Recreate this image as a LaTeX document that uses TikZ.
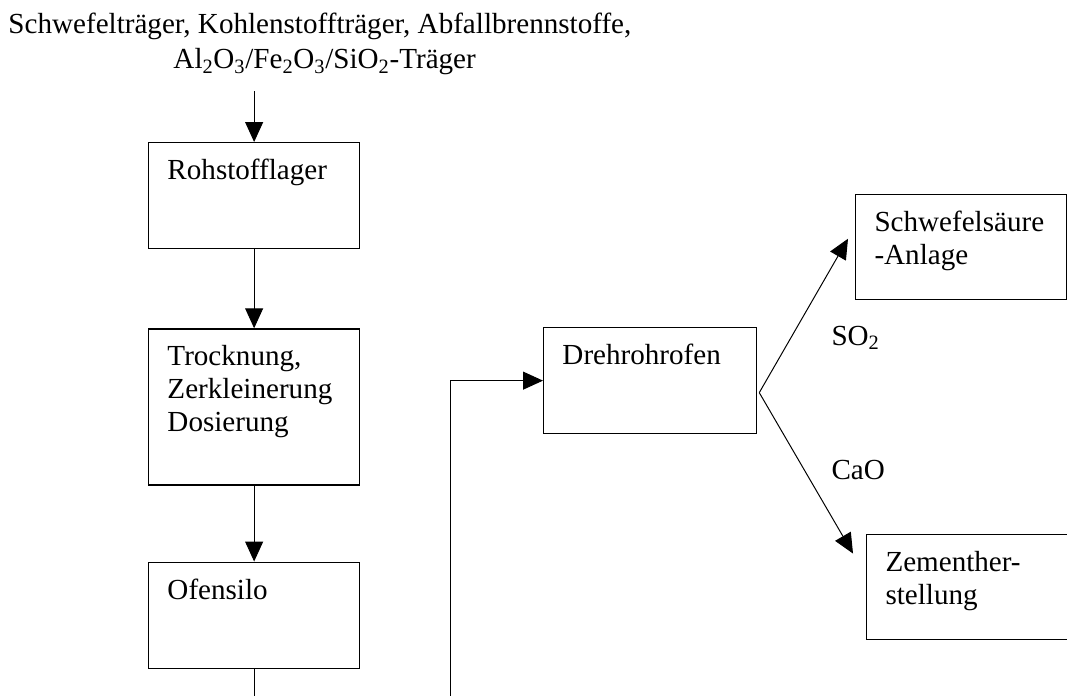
\documentclass[tikz,border=0pt]{standalone}
\usepackage{fontspec}
\setmainfont{Liberation Serif}
\usetikzlibrary{positioning,arrows.meta}

\begin{document}
\begin{tikzpicture}
[node distance=1.95cm, font=\fontsize{20.7}{23.4}\selectfont, line width=0.7pt, >={Triangle[length=0.5cm,width=0.45cm]}]
\tikzstyle{box}=[draw, line width=0.9pt, minimum width=5.275cm, minimum height=2.65cm, inner sep=0pt]
\tikzstyle{boxtext}=[anchor=north west, align=left, inner sep=0pt, xshift=0.475cm, yshift=-0.42cm]
\tikzstyle{flowlabel}=[anchor=base west, inner sep=0pt]
\clip (0,0) rectangle (26.675,-17.375);

\node[anchor=north west, align=left, inner sep=0pt]	(stoffe)	at (0.2,-0.325)	{Schwefelträger, Kohlenstoffträger, Abfallbrennstoffe,\\[1.5pt]\hspace*{4.125cm}Al\textsubscript{2}O\textsubscript{3}/Fe\textsubscript{2}O\textsubscript{3}/SiO\textsubscript{2}-Träger};

\node[box, anchor=north west]	(lager)		at (3.7,-3.55)		{};
\node[box, minimum height=3.9cm]	(trocknung)	[below=1.975cm of lager]	{};
\node[box]	(silo)		[below=1.9cm of trocknung]	{};
\node[box, minimum width=5.325cm, anchor=north west]	(ofen)	at (13.575,-8.175)	{};
\node[box, minimum height=2.625cm, anchor=north west]	(saeure)	at (21.375,-4.85)	{};
\node[box, minimum height=2.625cm, anchor=north west]	(zement)	at (21.65,-13.35)	{};

\node[boxtext]	(t-lager)	at (lager.north west)	{Rohstofflager};
\node[boxtext]	(t-trocknung)	at (trocknung.north west)	{Trocknung,\\Zerkleinerung\\Dosierung};
\node[boxtext]	(t-silo)	at (silo.north west)	{Ofensilo};
\node[boxtext]	(t-ofen)	at (ofen.north west)	{Drehrohrofen};
\node[boxtext]	(t-saeure)	at (saeure.north west)	{Schwefelsäure\\-Anlage};
\node[boxtext]	(t-zement)	at (zement.north west)	{Zementher-\\stellung};

\node[flowlabel]	(so2)	at (20.775,-8.625)	{SO\textsubscript{2}};
\node[flowlabel]	(cao)	at (20.775,-11.975)	{CaO};

\coordinate	(in)	at ([yshift=1.275cm]lager.north);
\coordinate	(out)	at ([yshift=-0.8cm]silo.south);
\coordinate	(back)	at (11.25,-17.5);
\coordinate	(fork)	at ([xshift=0.05cm,yshift=-0.3cm]ofen.east);
\coordinate	(s-in)	at ([xshift=-0.175cm,yshift=0.21cm]saeure.west);
\coordinate	(z-in)	at ([xshift=-0.325cm,yshift=0.84cm]zement.west);

\draw[->] (in)--(lager);
\draw[->] (lager)--(trocknung);
\draw[->] (trocknung)--(silo);
\draw (silo)--(out);
\draw[->] (back)|-(ofen);
\draw[->] (fork)--(s-in);
\draw[->] (fork)--(z-in);
\end{tikzpicture}
\end{document}
